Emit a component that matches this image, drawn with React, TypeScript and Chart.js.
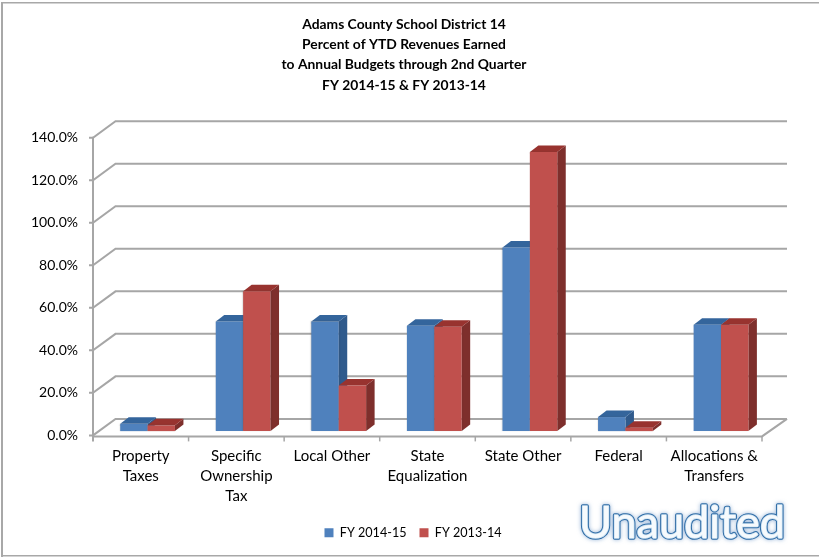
import React, { useEffect, useRef } from "react";
import { Chart, registerables } from "chart.js";

Chart.register(...registerables);

const categories = [
  ["Property", "Taxes"],
  ["Specific", "Ownership", "Tax"],
  ["Local Other"],
  ["State", "Equalization"],
  ["State Other"],
  ["Federal"],
  ["Allocations &", "Transfers"],
];
const fy1415 = [3.4, 51.6, 51.6, 49.6, 86.3, 6.6, 50.0];
const fy1314 = [2.7, 65.8, 21.4, 49.1, 131.3, 1.6, 50.0];
const titleLines = [
  "Adams County School District 14",
  "Percent of YTD Revenues Earned",
  "to Annual Budgets through 2nd Quarter",
  "FY 2014-15 & FY 2013-14",
];

const FONT = "Lato, Carlito, sans-serif";
const GRID = "#a6a6a6";

// Side and top face colours for each series, in dataset order.
const faceTop = ["#34659c", "#98332f"];
const faceSide = ["#2f5a8c", "#7e2f2c"];

// Offset of the bar plane from the front axis plane, and the extrusion of each bar.
const BAR_SHIFT = { x: 6.8, y: -4.3 };
const BAR_DEPTH = { x: 8.5, y: -6.5 };
const WALL_DEPTH = { x: 22.5, y: -16.5 };

const pseudo3d = {
  id: "pseudo3d",
  afterLayout(chart: any) {
    // The plot sits left of centre, while the title and legend centre on the page.
    chart.titleBlock.left += 21;
    chart.titleBlock.right += 21;
    chart.legend.left += 30;
    chart.legend.right += 30;
  },
  beforeDraw(chart: any) {
    const { ctx, width, height } = chart;
    ctx.save();
    ctx.fillStyle = "#ffffff";
    ctx.fillRect(0, 0, width, height);
    ctx.fillStyle = "#a8a8a8";
    ctx.fillRect(1, 2, 2, height - 2);
    ctx.fillRect(1, 2, width, 1.5);
    ctx.fillRect(1, height - 2, width, 1.5);
    ctx.restore();
  },
  beforeDatasetsDraw(chart: any) {
    const { ctx, chartArea, scales } = chart;
    const { left, right, bottom, top } = chartArea;
    ctx.save();
    ctx.strokeStyle = GRID;
    ctx.lineWidth = 2;
    ctx.lineCap = "butt";
    // Back wall gridlines with their connectors to the front axis.
    scales.y.ticks.forEach((t: any) => {
      const y = scales.y.getPixelForValue(t.value);
      ctx.beginPath();
      ctx.moveTo(left - 4, y);
      ctx.lineTo(left, y);
      ctx.lineTo(left + WALL_DEPTH.x, y + WALL_DEPTH.y);
      ctx.lineTo(right + WALL_DEPTH.x + 2.5, y + WALL_DEPTH.y);
      ctx.stroke();
    });
    // Front vertical axis, floor front edge and floor right edge.
    ctx.beginPath();
    ctx.moveTo(left, top - 1);
    ctx.lineTo(left, bottom + 6);
    ctx.stroke();
    ctx.beginPath();
    ctx.moveTo(left, bottom + 1);
    ctx.lineTo(right, bottom + 1);
    ctx.lineTo(right + WALL_DEPTH.x + 2.5, bottom + WALL_DEPTH.y);
    ctx.stroke();
    // Category separators below the floor.
    ctx.lineWidth = 1.5;
    const step = (right - left) / categories.length;
    for (let i = 1; i <= categories.length; i++) {
      const x = left + step * i;
      ctx.beginPath();
      ctx.moveTo(x, bottom + 1);
      ctx.lineTo(x, bottom + 6);
      ctx.stroke();
    }
    ctx.restore();
  },
  // Series are painted below in dataset order, so each red bar covers its blue neighbour's side.
  beforeDatasetDraw() {
    return false;
  },
  afterDatasetsDraw(chart: any) {
    const { ctx } = chart;
    chart.data.datasets.forEach((_: any, i: number) => {
      const meta = chart.getDatasetMeta(i);
      ctx.save();
      ctx.translate(BAR_SHIFT.x, BAR_SHIFT.y);
      meta.data.forEach((el: any) => {
        const l = el.x - el.width / 2;
        const r = el.x + el.width / 2;
        const { y, base } = el;
        ctx.fillStyle = faceSide[i];
        ctx.beginPath();
        ctx.moveTo(r, y);
        ctx.lineTo(r + BAR_DEPTH.x, y + BAR_DEPTH.y);
        ctx.lineTo(r + BAR_DEPTH.x, base + BAR_DEPTH.y);
        ctx.lineTo(r, base);
        ctx.closePath();
        ctx.fill();
        ctx.fillStyle = faceTop[i];
        ctx.beginPath();
        ctx.moveTo(l, y);
        ctx.lineTo(l + BAR_DEPTH.x, y + BAR_DEPTH.y);
        ctx.lineTo(r + BAR_DEPTH.x, y + BAR_DEPTH.y);
        ctx.lineTo(r, y);
        ctx.closePath();
        ctx.fill();
      });
      ctx.shadowColor = "rgba(70,70,70,0.55)";
      ctx.shadowBlur = 1.5;
      meta.controller.draw();
      ctx.restore();
    });
  },
  afterDraw(chart: any) {
    const { ctx } = chart;
    ctx.save();
    ctx.font = `45px ${FONT}`;
    ctx.textAlign = "left";
    ctx.textBaseline = "alphabetic";
    ctx.lineJoin = "round";
    ctx.shadowColor = "rgba(79,129,189,0.6)";
    ctx.shadowBlur = 4;
    ctx.strokeStyle = "#2f6ca6";
    ctx.lineWidth = 3.6;
    ctx.strokeText("Unaudited", 579, 538);
    ctx.shadowBlur = 0;
    ctx.strokeStyle = "#c9dff0";
    ctx.lineWidth = 1.6;
    ctx.strokeText("Unaudited", 579, 538);
    ctx.fillStyle = "#f6fafd";
    ctx.fillText("Unaudited", 579, 538);
    ctx.restore();
  },
};

export default function App() {
  const ref = useRef<HTMLCanvasElement>(null);

  useEffect(() => {
    const chart = new Chart(ref.current!, {
      type: "bar",
      data: {
        labels: categories,
        datasets: [
          { label: "FY 2014-15", data: fy1415, backgroundColor: "#4f81bd" },
          { label: "FY 2013-14", data: fy1314, backgroundColor: "#c0504d" },
        ],
      } as any,
      plugins: [pseudo3d],
      options: {
        responsive: false,
        animation: false,
        layout: { padding: { left: 4, right: 57, top: 0, bottom: 8 } },
        datasets: { bar: { categoryPercentage: 0.573, barPercentage: 1 } },
        scales: {
          x: {
            grid: { display: false },
            border: { display: false },
            ticks: {
              autoSkip: false,
              maxRotation: 0,
              padding: 3,
              color: "#000000",
              font: { family: FONT, size: 15, lineHeight: 1.33 },
            },
            afterFit(scale: any) {
              scale.height = 78;
            },
          },
          y: {
            min: 0,
            max: 140,
            grid: { display: false },
            border: { display: false },
            ticks: {
              stepSize: 20,
              padding: 7,
              color: "#000000",
              font: { family: FONT, size: 14 },
              callback: (v: any) => `${Number(v).toFixed(1)}%`,
            },
            afterFit(scale: any) {
              scale.width = 89;
            },
          },
        },
        plugins: {
          tooltip: { enabled: false },
          title: {
            display: true,
            text: titleLines,
            color: "#000000",
            font: { family: FONT, size: 13.85, weight: "bold", lineHeight: 1.466 },
            padding: { top: 14, bottom: 42.5 },
          },
          legend: {
            position: "bottom",
            labels: {
              boxWidth: 9,
              boxHeight: 9,
              padding: 13,
              color: "#000000",
              font: { family: FONT, size: 12.6 },
            },
          },
        },
      },
    } as any);
    return () => chart.destroy();
  }, []);

  return (
    <div style={{ position: "absolute", left: 0, top: 0, width: 819, height: 557 }}>
      <canvas ref={ref} width={819} height={557} style={{ display: "block" }} />
    </div>
  );
}
